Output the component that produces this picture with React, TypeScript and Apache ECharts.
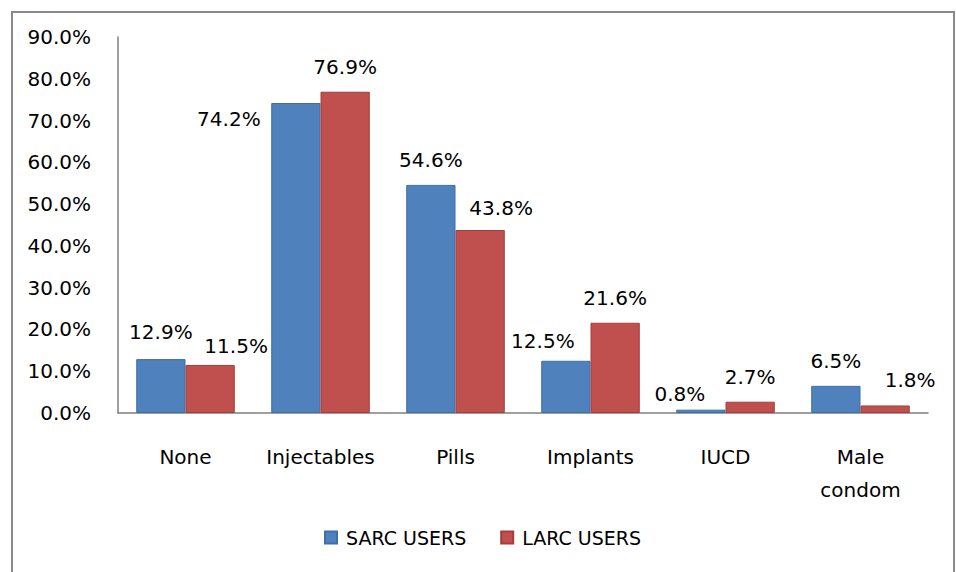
import React, { useEffect, useRef } from "react";
import * as echarts from "echarts";

const categories = ["None", "Injectables", "Pills", "Implants", "IUCD", "Male\ncondom"];
const sarcUsers = [12.9, 74.2, 54.6, 12.5, 0.8, 6.5];
const larcUsers = [11.5, 76.9, 43.8, 21.6, 2.7, 1.8];
const seriesNames = ["SARC USERS", "LARC USERS"];

// label nudges (Excel-style auto placement)
const sarcLabelNudge: [number, number][] = [[0, -2], [-67, 41], [0, 0], [-23, 5], [-21, 9], [0, 0]];
const larcLabelNudge: [number, number][] = [[26, 6], [0, 0], [21, 3], [0, 0], [0, 0], [25, 0]];

const FONT = "DejaVu Sans";

export default function App() {
  const ref = useRef<HTMLDivElement>(null);
  useEffect(() => {
    if (!ref.current) return;
    const chart = echarts.init(ref.current, null, { renderer: "svg" });
    const mk = (vals: number[], nudges: [number, number][]) =>
      vals.map((v, i) => ({ value: v, label: { offset: nudges[i] } }));
    const labelBase = {
      show: true,
      position: "top" as const,
      distance: 15,
      formatter: (p: any) => p.value.toFixed(1) + "%",
      fontFamily: FONT,
      fontSize: 20,
      color: "#000",
    };
    chart.setOption({
      animation: false,
      backgroundColor: "#fff",
      graphic: [
        {
          type: "rect",
          shape: { x: 12, y: 12, width: 942, height: 580 },
          style: { fill: "none", stroke: "#8a8a8a", lineWidth: 2 },
          silent: true,
        },
      ],
      grid: { left: 118, right: 28, top: 37, bottom: 159 },
      legend: {
        left: 324,
        top: 528,
        padding: 0,
        itemWidth: 12,
        itemHeight: 12,
        itemGap: 34,
        icon: "rect",
        textStyle: { fontFamily: FONT, fontSize: 19, color: "#000", padding: [0, 0, 0, 4] },
        data: seriesNames,
      },
      xAxis: {
        type: "category",
        data: categories,
        axisLine: { lineStyle: { color: "#7f7f7f", width: 1.5 } },
        axisTick: { show: false },
        axisLabel: {
          interval: 0,
          margin: 27,
          fontFamily: FONT,
          fontSize: 20,
          lineHeight: 33,
          color: "#000",
        },
      },
      yAxis: {
        type: "value",
        min: 0,
        max: 90,
        interval: 10,
        axisLine: { show: true, lineStyle: { color: "#7f7f7f", width: 1.5 } },
        axisTick: { show: false },
        splitLine: { show: false },
        axisLabel: {
          margin: 27,
          fontFamily: FONT,
          fontSize: 20,
          color: "#000",
          formatter: (v: number) => v.toFixed(1) + "%",
        },
      },
      series: [
        {
          name: seriesNames[0],
          type: "bar",
          data: mk(sarcUsers, sarcLabelNudge),
          barGap: "0%",
          barCategoryGap: "27%",
          itemStyle: { color: "#4F81BD", borderColor: "#3f6fa8", borderWidth: 1 },
          label: labelBase,
        },
        {
          name: seriesNames[1],
          type: "bar",
          data: mk(larcUsers, larcLabelNudge),
          barGap: "0%",
          barCategoryGap: "27%",
          itemStyle: { color: "#C0504D", borderColor: "#a33e3b", borderWidth: 1 },
          label: labelBase,
        },
      ],
    });
    return () => chart.dispose();
  }, []);
  return (
    <div
      ref={ref}
      style={{ position: "fixed", left: 0, top: 0, width: 956, height: 572, background: "#fff" }}
    />
  );
}
